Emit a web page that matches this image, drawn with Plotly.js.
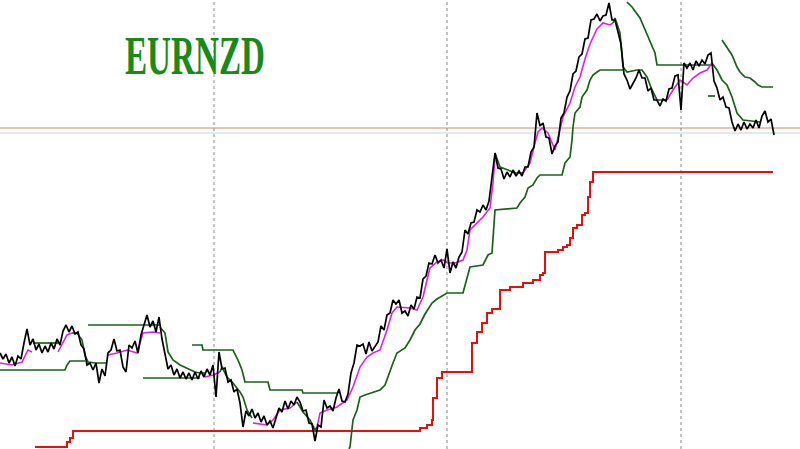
<!DOCTYPE html>
<html>
<head>
<meta charset="utf-8">
<script src="https://cdn.plot.ly/plotly-3.0.1.min.js"></script>
<style>html,body{margin:0;padding:0;background:#fff}#chart{width:800px;height:449px}</style>
</head>
<body>
<div id="chart"></div>
<script>
// ---- DATA (price units above chart floor; time in chart units) ----
const symbol = "EURNZD";

// Price bars, one every 3 time units starting at 0
const priceStart = 0;
const priceStep = 3;
const price = [
  96,90,95,86,92,83,93,90,106,120,
  104,110,99,105,96,103,97,106,100,110,
  104,118,124,117,123,115,117,104,100,84,
  86,79,86,66,80,73,96,99,110,98,
  99,82,77,104,101,108,96,114,124,134,
  122,128,117,132,110,93,80,84,74,80,
  71,77,70,76,69,77,70,78,72,80,
  74,84,52,97,80,81,67,69,57,60,
  46,22,38,33,40,31,36,27,33,24,
  28,21,30,41,37,48,40,48,44,52,
  47,38,39,26,25,8,24,22,49,41,
  43,38,51,60,48,47,55,76,86,104,
  103,105,95,107,98,103,107,123,119,134,
  136,149,145,149,136,138,133,144,140,152,
  151,170,173,186,185,194,186,189,181,200,
  176,187,181,192,197,219,215,226,227,239,
  237,244,239,248,272,296,281,280,270,277,
  272,279,273,278,273,282,282,297,302,336,
  323,326,312,311,295,303,307,331,336,352,
  358,375,378,392,395,410,411,429,430,435,
  428,433,434,446,429,429,417,405,375,369,
  360,366,371,379,371,371,358,361,349,349,
  343,350,348,360,361,373,374,339,386,381,
  386,379,388,383,389,385,394,396,368,361,
  349,352,342,341,327,318,325,319,327,320,
  325,321,329,321,333,338,327,330,314
];

// Moving average, rising parts (magenta)
const maUpX = [0,12,22,28,32,null,58,63,67,72,null,108,117,127,137,140,143,153,160,null,205,213,220,null,
  253,267,273,280,290,297,null,
  317,320,327,337,347,353,360,367,373,380,387,392,397,410,417,423,427,430,437,443,448,455,463,467,470,475,483,490,493,495,null,
  523,530,535,538,542,548,555,558,563,570,575,580,585,590,597,603,610,613,null,
  667,673,680,687,693,700,707,712];
const maUpY = [86,84,87,99,97,null,97,106,114,116,null,94,96,99,96,106,116,117,116,null,72,74,77,null,
  26,24,29,39,41,47,null,
  22,36,39,42,49,62,82,92,96,99,119,136,142,141,139,152,169,181,187,189,186,186,189,199,219,224,232,241,266,292,null,
  276,286,306,317,321,316,299,312,332,346,362,372,390,405,420,426,424,426,null,
  349,359,369,364,371,376,379,386];

// Moving average, falling parts (green)
const maDownX = [33,58,null,72,77,82,85,88,95,107,null,160,165,168,173,180,187,195,200,205,null,
  220,222,227,233,240,243,247,252,null,297,303,310,315,317,null,495,500,508,515,523,null,
  613,615,620,623,627,637,642,647,652,657,663,667,null,712,717,722,727,732,737,743,760];
const maDownY = [106,106,null,116,116,109,94,87,86,86,null,122,116,97,89,84,81,77,76,76,null,
  77,82,72,66,57,52,39,31,null,47,37,29,19,22,null,296,282,279,276,276,null,
  426,431,416,382,377,379,379,372,359,349,349,349,null,386,379,369,364,352,336,329,327,327];

// Trailing stop channel (green steps)
const stopX = [0,65,67,70,85,null,88,160,null,143,200,null,
  192,202,203,233,238,242,245,268,270,302,303,338,null,
  349,350,353,357,360,365,380,385,393,397,405,410,415,420,425,432,437,442,447,463,467,470,483,488,492,495,517,520,525,528,533,537,540,562,565,570,572,573,575,580,582,587,590,593,597,600,623,null,
  627,632,640,645,650,655,657,680,712,null,708,715,null,
  722,727,732,737,740,745,750,755,758,762,773];
const stopY = [79,79,84,88,88,null,124,124,null,71,71,null,
  104,104,99,99,89,79,67,67,59,59,56,56,null,
  0,2,29,39,52,54,59,64,86,96,101,109,119,125,135,146,150,153,156,156,172,182,184,194,196,239,241,246,252,261,264,271,274,274,286,292,309,322,336,342,352,359,369,374,377,379,379,null,
  447,442,431,419,407,396,384,384,384,null,353,353,null,
  409,402,394,382,377,372,371,367,364,362,362];

// Long-term trailing stop (red steps)
const redX = [35,67,70,73,420,427,432,433,437,442,472,477,482,487,492,500,510,523,533,540,543,545,558,563,567,570,573,577,582,585,588,590,593,773];
const redY = [2,7,11,18,21,24,29,51,71,77,106,117,126,136,140,159,162,166,169,174,176,197,199,202,204,211,221,224,234,236,252,267,277,277];

// Horizontal price levels and period separators
const priceLevels = [321, 316];
const periodSeparators = [214, 447, 681];

// ---- CHART ----
const priceX = price.map((_, i) => priceStart + i * priceStep);

const traces = [
  {x: redX, y: redY, mode: 'lines', line: {color: '#e41010', width: 2, shape: 'hv'}, hoverinfo: 'skip'},
  {x: stopX, y: stopY, mode: 'lines', line: {color: '#1b601b', width: 1.7}, connectgaps: false, hoverinfo: 'skip'},
  {x: maUpX, y: maUpY, mode: 'lines', line: {color: '#e020e0', width: 1.6}, connectgaps: false, hoverinfo: 'skip'},
  {x: maDownX, y: maDownY, mode: 'lines', line: {color: '#1b601b', width: 1.7}, connectgaps: false, hoverinfo: 'skip'},
  {x: priceX, y: price, mode: 'lines', line: {color: '#000000', width: 1.7}, hoverinfo: 'skip'}
];

const levelColors = ['#cf8a62', '#c4d4de'];
const shapes = [];
priceLevels.forEach((lv, i) => shapes.push({
  type: 'line', xref: 'paper', x0: 0, x1: 1, yref: 'y', y0: lv, y1: lv,
  line: {color: levelColors[i], width: 1}, layer: 'below'
}));
periodSeparators.forEach(sx => shapes.push({
  type: 'line', xref: 'x', x0: sx, x1: sx, yref: 'paper', y0: 0, y1: 1,
  line: {color: '#8a8a8a', width: 1, dash: 'dot'}, layer: 'below'
}));

const axisHidden = {showgrid: false, zeroline: false, showticklabels: false, showline: false, ticks: '', fixedrange: true};

const layout = {
  width: 800, height: 449,
  margin: {l: 0, r: 0, t: 0, b: 0, pad: 0},
  paper_bgcolor: '#ffffff', plot_bgcolor: '#ffffff',
  showlegend: false,
  title: {
    text: symbol, x: 195 / 800, xanchor: 'center', xref: 'container',
    y: 1 - 55 / 449, yanchor: 'middle', yref: 'container',
    font: {family: 'Liberation Serif, Times New Roman, serif', size: 55, color: '#178a17', weight: 'bold'}
  },
  xaxis: Object.assign({range: [0, 800]}, axisHidden),
  yaxis: Object.assign({range: [0, 449]}, axisHidden),
  shapes: shapes
};

Plotly.newPlot('chart', traces, layout, {staticPlot: true, displayModeBar: false}).then(() => {
  const t = document.querySelector('.gtitle');
  if (t) {
    t.setAttribute('textLength', '140');
    t.setAttribute('lengthAdjust', 'spacingAndGlyphs');
  }
});
</script>
</body>
</html>
